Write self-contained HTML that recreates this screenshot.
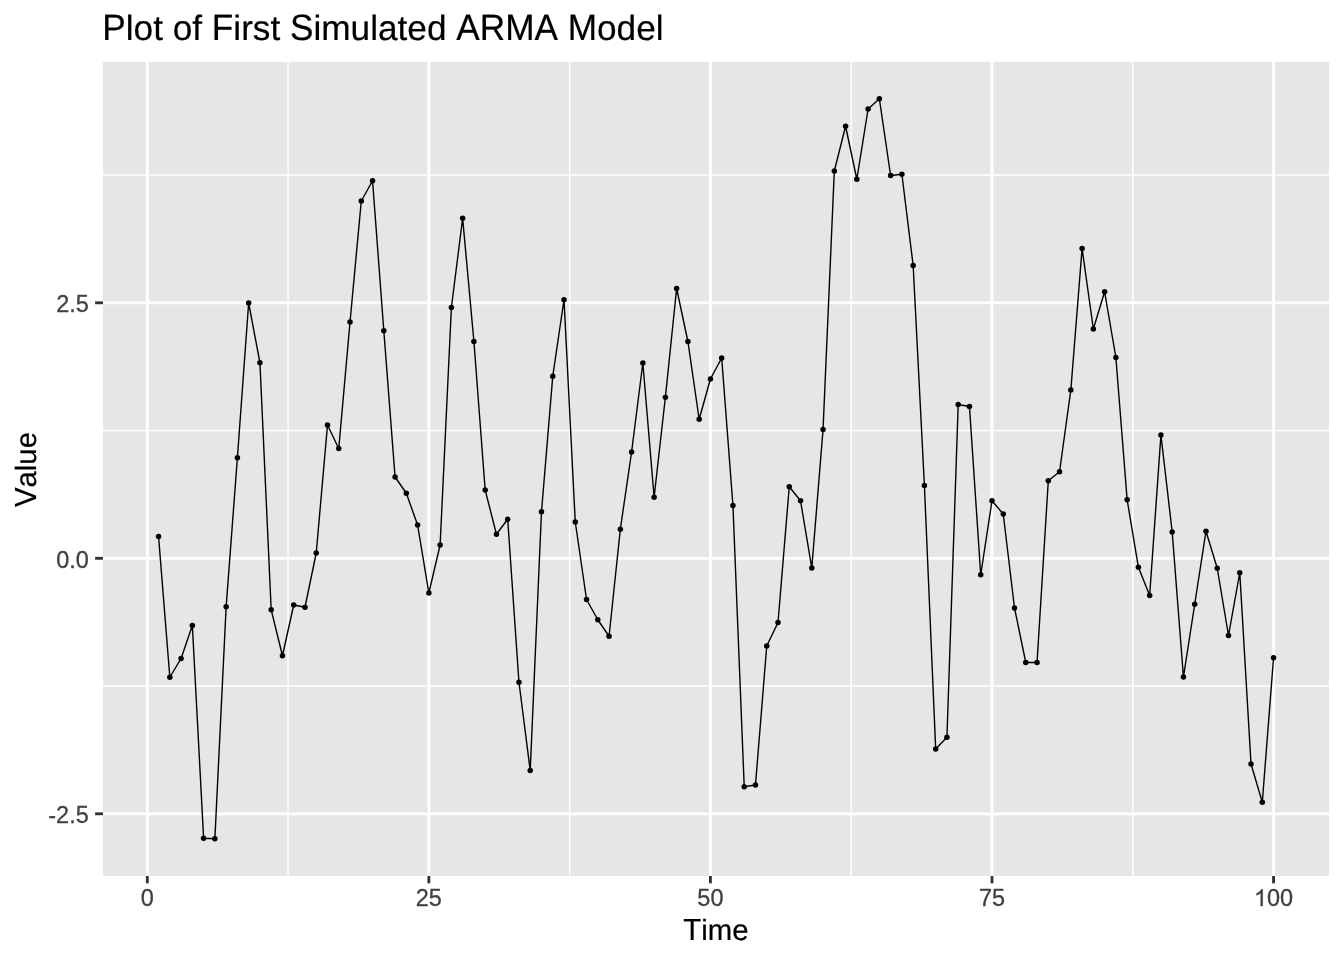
<!DOCTYPE html>
<html><head><meta charset="utf-8"><title>Plot of First Simulated ARMA Model</title>
<style>html,body{margin:0;padding:0;background:#fff;}body{width:1344px;height:960px;overflow:hidden;font-family:"Liberation Sans",sans-serif;}svg{display:block;}text{font-family:"Liberation Sans",sans-serif;font-kerning:none;}svg{will-change:transform;}</style></head><body>
<svg width="1344" height="960" viewBox="0 0 1344 960">
<rect x="0" y="0" width="1344" height="960" fill="#ffffff"/>
<rect x="103" y="62" width="1226.00" height="814" fill="#e6e6e6"/>
<clipPath id="c"><rect x="103" y="62" width="1226.00" height="814"/></clipPath>
<g clip-path="url(#c)">
<g stroke="#ffffff" stroke-width="1.42" fill="none">
<line x1="288.08" y1="62" x2="288.08" y2="876"/>
<line x1="569.64" y1="62" x2="569.64" y2="876"/>
<line x1="851.21" y1="62" x2="851.21" y2="876"/>
<line x1="1132.77" y1="62" x2="1132.77" y2="876"/>
<line x1="103" y1="175.05" x2="1329.0" y2="175.05"/>
<line x1="103" y1="430.55" x2="1329.0" y2="430.55"/>
<line x1="103" y1="686.05" x2="1329.0" y2="686.05"/>
</g>
<g stroke="#ffffff" stroke-width="2.85" fill="none">
<line x1="147.30" y1="62" x2="147.30" y2="876"/>
<line x1="428.86" y1="62" x2="428.86" y2="876"/>
<line x1="710.42" y1="62" x2="710.42" y2="876"/>
<line x1="991.99" y1="62" x2="991.99" y2="876"/>
<line x1="1273.55" y1="62" x2="1273.55" y2="876"/>
<line x1="103" y1="302.80" x2="1329.0" y2="302.80"/>
<line x1="103" y1="558.30" x2="1329.0" y2="558.30"/>
<line x1="103" y1="813.80" x2="1329.0" y2="813.80"/>
</g>
<polyline points="158.56,536.50 169.83,677.25 181.09,658.50 192.35,625.50 203.61,838.25 214.88,838.75 226.14,606.75 237.40,457.75 248.66,303.00 259.93,362.75 271.19,609.75 282.45,655.75 293.71,605.00 304.98,607.25 316.24,553.00 327.50,425.00 338.76,448.50 350.02,322.00 361.29,201.00 372.55,180.75 383.81,330.75 395.07,477.00 406.34,493.25 417.60,525.00 428.86,593.00 440.12,545.00 451.39,307.50 462.65,218.25 473.91,341.50 485.18,490.00 496.44,534.25 507.70,519.25 518.96,682.25 530.22,770.50 541.49,511.75 552.75,376.25 564.01,299.75 575.27,522.00 586.54,599.50 597.80,619.75 609.06,636.25 620.33,529.25 631.59,452.00 642.85,363.00 654.11,497.25 665.38,397.25 676.64,288.50 687.90,341.50 699.16,419.25 710.42,379.00 721.69,358.00 732.95,505.50 744.21,786.75 755.47,785.00 766.74,646.00 778.00,622.50 789.26,486.75 800.52,500.75 811.79,568.00 823.05,429.50 834.31,171.00 845.58,126.25 856.84,179.25 868.10,109.00 879.36,98.75 890.62,175.50 901.89,174.25 913.15,265.50 924.41,485.50 935.67,749.00 946.94,737.25 958.20,404.50 969.46,406.50 980.72,574.75 991.99,500.75 1003.25,514.00 1014.51,608.00 1025.77,662.50 1037.04,662.50 1048.30,480.75 1059.56,471.75 1070.83,390.00 1082.09,248.50 1093.35,329.00 1104.61,291.75 1115.88,357.50 1127.14,499.75 1138.40,567.25 1149.66,595.50 1160.92,435.00 1172.19,532.00 1183.45,677.00 1194.71,604.25 1205.97,531.25 1217.24,568.25 1228.50,635.50 1239.76,572.75 1251.02,764.00 1262.29,802.25 1273.55,657.75" fill="none" stroke="#000" stroke-width="1.4" stroke-linejoin="round" stroke-linecap="butt"/>
<g fill="#000">
<circle cx="158.56" cy="536.50" r="2.75"/>
<circle cx="169.83" cy="677.25" r="2.75"/>
<circle cx="181.09" cy="658.50" r="2.75"/>
<circle cx="192.35" cy="625.50" r="2.75"/>
<circle cx="203.61" cy="838.25" r="2.75"/>
<circle cx="214.88" cy="838.75" r="2.75"/>
<circle cx="226.14" cy="606.75" r="2.75"/>
<circle cx="237.40" cy="457.75" r="2.75"/>
<circle cx="248.66" cy="303.00" r="2.75"/>
<circle cx="259.93" cy="362.75" r="2.75"/>
<circle cx="271.19" cy="609.75" r="2.75"/>
<circle cx="282.45" cy="655.75" r="2.75"/>
<circle cx="293.71" cy="605.00" r="2.75"/>
<circle cx="304.98" cy="607.25" r="2.75"/>
<circle cx="316.24" cy="553.00" r="2.75"/>
<circle cx="327.50" cy="425.00" r="2.75"/>
<circle cx="338.76" cy="448.50" r="2.75"/>
<circle cx="350.02" cy="322.00" r="2.75"/>
<circle cx="361.29" cy="201.00" r="2.75"/>
<circle cx="372.55" cy="180.75" r="2.75"/>
<circle cx="383.81" cy="330.75" r="2.75"/>
<circle cx="395.07" cy="477.00" r="2.75"/>
<circle cx="406.34" cy="493.25" r="2.75"/>
<circle cx="417.60" cy="525.00" r="2.75"/>
<circle cx="428.86" cy="593.00" r="2.75"/>
<circle cx="440.12" cy="545.00" r="2.75"/>
<circle cx="451.39" cy="307.50" r="2.75"/>
<circle cx="462.65" cy="218.25" r="2.75"/>
<circle cx="473.91" cy="341.50" r="2.75"/>
<circle cx="485.18" cy="490.00" r="2.75"/>
<circle cx="496.44" cy="534.25" r="2.75"/>
<circle cx="507.70" cy="519.25" r="2.75"/>
<circle cx="518.96" cy="682.25" r="2.75"/>
<circle cx="530.22" cy="770.50" r="2.75"/>
<circle cx="541.49" cy="511.75" r="2.75"/>
<circle cx="552.75" cy="376.25" r="2.75"/>
<circle cx="564.01" cy="299.75" r="2.75"/>
<circle cx="575.27" cy="522.00" r="2.75"/>
<circle cx="586.54" cy="599.50" r="2.75"/>
<circle cx="597.80" cy="619.75" r="2.75"/>
<circle cx="609.06" cy="636.25" r="2.75"/>
<circle cx="620.33" cy="529.25" r="2.75"/>
<circle cx="631.59" cy="452.00" r="2.75"/>
<circle cx="642.85" cy="363.00" r="2.75"/>
<circle cx="654.11" cy="497.25" r="2.75"/>
<circle cx="665.38" cy="397.25" r="2.75"/>
<circle cx="676.64" cy="288.50" r="2.75"/>
<circle cx="687.90" cy="341.50" r="2.75"/>
<circle cx="699.16" cy="419.25" r="2.75"/>
<circle cx="710.42" cy="379.00" r="2.75"/>
<circle cx="721.69" cy="358.00" r="2.75"/>
<circle cx="732.95" cy="505.50" r="2.75"/>
<circle cx="744.21" cy="786.75" r="2.75"/>
<circle cx="755.47" cy="785.00" r="2.75"/>
<circle cx="766.74" cy="646.00" r="2.75"/>
<circle cx="778.00" cy="622.50" r="2.75"/>
<circle cx="789.26" cy="486.75" r="2.75"/>
<circle cx="800.52" cy="500.75" r="2.75"/>
<circle cx="811.79" cy="568.00" r="2.75"/>
<circle cx="823.05" cy="429.50" r="2.75"/>
<circle cx="834.31" cy="171.00" r="2.75"/>
<circle cx="845.58" cy="126.25" r="2.75"/>
<circle cx="856.84" cy="179.25" r="2.75"/>
<circle cx="868.10" cy="109.00" r="2.75"/>
<circle cx="879.36" cy="98.75" r="2.75"/>
<circle cx="890.62" cy="175.50" r="2.75"/>
<circle cx="901.89" cy="174.25" r="2.75"/>
<circle cx="913.15" cy="265.50" r="2.75"/>
<circle cx="924.41" cy="485.50" r="2.75"/>
<circle cx="935.67" cy="749.00" r="2.75"/>
<circle cx="946.94" cy="737.25" r="2.75"/>
<circle cx="958.20" cy="404.50" r="2.75"/>
<circle cx="969.46" cy="406.50" r="2.75"/>
<circle cx="980.72" cy="574.75" r="2.75"/>
<circle cx="991.99" cy="500.75" r="2.75"/>
<circle cx="1003.25" cy="514.00" r="2.75"/>
<circle cx="1014.51" cy="608.00" r="2.75"/>
<circle cx="1025.77" cy="662.50" r="2.75"/>
<circle cx="1037.04" cy="662.50" r="2.75"/>
<circle cx="1048.30" cy="480.75" r="2.75"/>
<circle cx="1059.56" cy="471.75" r="2.75"/>
<circle cx="1070.83" cy="390.00" r="2.75"/>
<circle cx="1082.09" cy="248.50" r="2.75"/>
<circle cx="1093.35" cy="329.00" r="2.75"/>
<circle cx="1104.61" cy="291.75" r="2.75"/>
<circle cx="1115.88" cy="357.50" r="2.75"/>
<circle cx="1127.14" cy="499.75" r="2.75"/>
<circle cx="1138.40" cy="567.25" r="2.75"/>
<circle cx="1149.66" cy="595.50" r="2.75"/>
<circle cx="1160.92" cy="435.00" r="2.75"/>
<circle cx="1172.19" cy="532.00" r="2.75"/>
<circle cx="1183.45" cy="677.00" r="2.75"/>
<circle cx="1194.71" cy="604.25" r="2.75"/>
<circle cx="1205.97" cy="531.25" r="2.75"/>
<circle cx="1217.24" cy="568.25" r="2.75"/>
<circle cx="1228.50" cy="635.50" r="2.75"/>
<circle cx="1239.76" cy="572.75" r="2.75"/>
<circle cx="1251.02" cy="764.00" r="2.75"/>
<circle cx="1262.29" cy="802.25" r="2.75"/>
<circle cx="1273.55" cy="657.75" r="2.75"/>
</g>
</g>
<g stroke="#333333" stroke-width="2.85" fill="none">
<line x1="147.30" y1="876" x2="147.30" y2="883.3"/>
<line x1="428.86" y1="876" x2="428.86" y2="883.3"/>
<line x1="710.42" y1="876" x2="710.42" y2="883.3"/>
<line x1="991.99" y1="876" x2="991.99" y2="883.3"/>
<line x1="1273.55" y1="876" x2="1273.55" y2="883.3"/>
<line x1="95.10" y1="302.80" x2="103" y2="302.80"/>
<line x1="95.10" y1="558.30" x2="103" y2="558.30"/>
<line x1="95.10" y1="813.80" x2="103" y2="813.80"/>
</g>
<g fill="#404040" font-size="23.47px" stroke="#404040" stroke-width="0.3" stroke-linejoin="round">
<text x="147.30" y="906.1" text-anchor="middle">0</text>
<text x="428.86" y="906.1" text-anchor="middle">25</text>
<text x="710.42" y="906.1" text-anchor="middle">50</text>
<text x="991.99" y="906.1" text-anchor="middle">75</text>
<path transform="translate(1253.97,906.1) scale(0.011460,-0.011460)" stroke-width="26.2" d="M763 0H583V1147Q518 1085 412.5 1023Q307 961 223 930V1104Q374 1175 487 1276Q600 1377 647 1472H763Z"/>
<text x="1267.02" y="906.1" text-anchor="start">00</text>
<text x="88.75" y="312.10" text-anchor="end">2.5</text>
<text x="88.75" y="567.60" text-anchor="end">0.0</text>
<text x="88.75" y="823.10" text-anchor="end">-2.5</text>
</g>
<g transform="translate(102.30,39.90)" font-size="35.2px" fill="#000" stroke="#000" stroke-width="0.2" stroke-linejoin="round" text-rendering="geometricPrecision">
<text transform="translate(0.00,0) scale(1,1.0405)">P</text>
<text x="23.47" y="0" xml:space="preserve">lot of </text>
<text transform="translate(109.53,0) scale(1,1.0405)">F</text>
<text x="131.02" y="0" xml:space="preserve">irst </text>
<text transform="translate(187.70,0) scale(1,1.0405)">S</text>
<text x="211.17" y="0" xml:space="preserve">imulated </text>
<text transform="translate(353.95,0) scale(1,1.0405)">A</text>
<text transform="translate(377.42,0) scale(1,1.0405)">R</text>
<text transform="translate(402.83,0) scale(1,1.0405)">M</text>
<text transform="translate(432.14,0) scale(1,1.0405)">A</text>
<text x="455.61" y="0" xml:space="preserve"> </text>
<text transform="translate(465.39,0) scale(1,1.0405)">M</text>
<text x="494.70" y="0" xml:space="preserve">odel</text>
</g>
<g transform="translate(715.90,940.00)" font-size="29.33px" fill="#000" stroke="#000" stroke-width="0.22" stroke-linejoin="round" text-rendering="geometricPrecision">
<text transform="translate(-32.59,0) scale(1,1.0405)">T</text>
<text x="-14.69" y="0" xml:space="preserve">ime</text>
</g>
<g transform="translate(35.80,469.50) rotate(-90)" font-size="29.33px" fill="#000" stroke="#000" stroke-width="0.22" stroke-linejoin="round" text-rendering="geometricPrecision">
<text transform="translate(-37.51,0) scale(1,1.0405)">V</text>
<text x="-17.96" y="0" xml:space="preserve">alue</text>
</g>
</svg></body></html>
